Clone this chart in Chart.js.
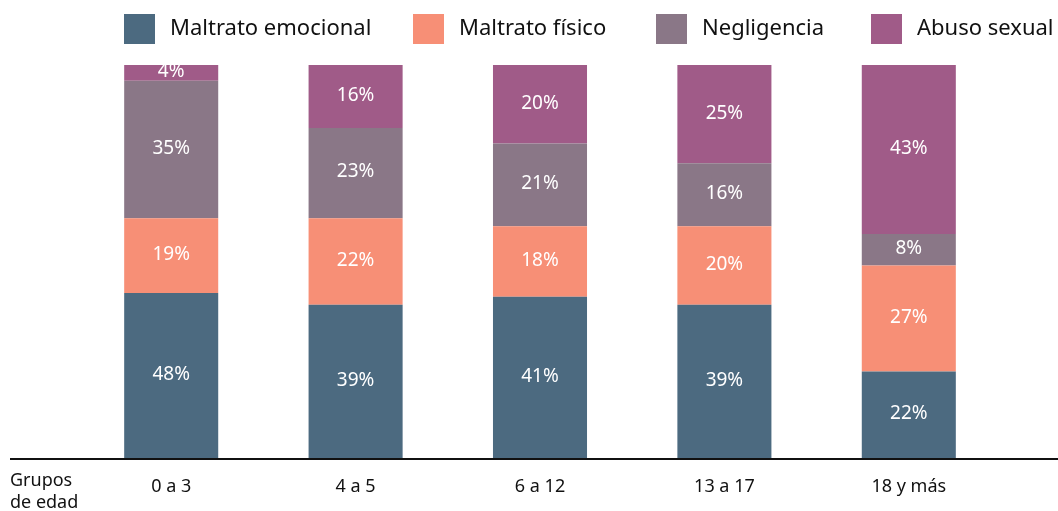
<!DOCTYPE html>
<html>
<head>
<meta charset="utf-8">
<script src="https://cdn.jsdelivr.net/npm/chart.js@4.4.1/dist/chart.umd.min.js"></script>
<style>
  html, body { margin: 0; padding: 0; background: #ffffff; }
  #wrap { width: 1058px; height: 511px; }
</style>
</head>
<body>
<div id="wrap"><canvas id="c" width="1058" height="511"></canvas></div>
<script>
// ---- data ----
const categories = ["0 a 3", "4 a 5", "6 a 12", "13 a 17", "18 y más"];
const seriesNames = ["Maltrato emocional", "Maltrato físico", "Negligencia", "Abuso sexual"];
// segment heights as drawn (share of each bar)
const emocional = [42, 39, 41, 39, 22];
const fisico    = [19, 22, 18, 20, 27];
const negligencia = [35, 23, 21, 16, 8];
const sexual    = [4, 16, 20, 25, 43];
// labels as printed on the bars
const emocionalLabels   = ["48%", "39%", "41%", "39%", "22%"];
const fisicoLabels      = ["19%", "22%", "18%", "20%", "27%"];
const negligenciaLabels = ["35%", "23%", "21%", "16%", "8%"];
const sexualLabels      = ["4%", "16%", "20%", "25%", "43%"];
const axisTitleLines = ["Grupos", "de edad"];

const colors = ["#4c6a80", "#f78f76", "#8a7787", "#a05b88"];
const FONT = "'Noto Sans', 'Open Sans', sans-serif";
const legendItemX = [124, 413, 656, 871];

const seriesData = [emocional, fisico, negligencia, sexual];
const seriesLabels = [emocionalLabels, fisicoLabels, negligenciaLabels, sexualLabels];

const datasets = seriesNames.map((name, i) => ({
  label: name,
  data: seriesData[i],
  valueLabels: seriesLabels[i],
  backgroundColor: colors[i],
  borderWidth: 0,
  barPercentage: 0.51,
  categoryPercentage: 1.0
}));

const extrasPlugin = {
  id: 'extras',
  afterDatasetsDraw(chart) {
    const ctx = chart.ctx;
    ctx.save();
    ctx.fillStyle = '#ffffff';
    ctx.font = "19px " + FONT;
    ctx.textAlign = 'center';
    ctx.textBaseline = 'middle';
    chart.data.datasets.forEach((ds, di) => {
      const meta = chart.getDatasetMeta(di);
      meta.data.forEach((bar, i) => {
        const cy = (bar.y + bar.base) / 2 - 1;
        ctx.fillText(ds.valueLabels[i], bar.x, cy);
      });
    });
    ctx.restore();
  },
  afterDraw(chart) {
    const ctx = chart.ctx;
    const area = chart.chartArea;
    ctx.save();
    // baseline axis line across the full width
    ctx.strokeStyle = '#111111';
    ctx.lineWidth = 2;
    ctx.beginPath();
    ctx.moveTo(10, area.bottom + 1);
    ctx.lineTo(chart.width, area.bottom + 1);
    ctx.stroke();
    // axis title at left
    ctx.fillStyle = '#111111';
    ctx.font = "18px " + FONT;
    ctx.textAlign = 'left';
    ctx.textBaseline = 'middle';
    ctx.fillText(axisTitleLines[0], 10, area.bottom + 23);
    ctx.fillText(axisTitleLines[1], 10, area.bottom + 45);
    // legend
    ctx.font = "22px " + FONT;
    const boxW = 31, boxH = 30, top = 14;
    chart.data.datasets.forEach((ds, i) => {
      const x = legendItemX[i];
      ctx.fillStyle = ds.backgroundColor;
      ctx.fillRect(x, top, boxW, boxH);
      ctx.fillStyle = '#111111';
      ctx.fillText(ds.label, x + boxW + 15, top + boxH / 2);
    });
    ctx.restore();
  }
};

new Chart(document.getElementById('c'), {
  type: 'bar',
  data: { labels: categories, datasets: datasets },
  options: {
    responsive: false,
    animation: false,
    devicePixelRatio: 1,
    layout: { padding: { left: 79, right: 57, top: 65, bottom: 13 } },
    plugins: { legend: { display: false }, tooltip: { enabled: false } },
    scales: {
      x: {
        stacked: true,
        grid: { display: false, drawTicks: false },
        border: { display: false },
        ticks: { color: '#111111', font: { size: 18, family: FONT }, padding: 18, maxRotation: 0 },
        afterFit(scale) { scale.height = 40; }
      },
      y: {
        stacked: true,
        min: 0,
        max: 100,
        display: false
      }
    }
  },
  plugins: [extrasPlugin]
});
</script>
</body>
</html>
